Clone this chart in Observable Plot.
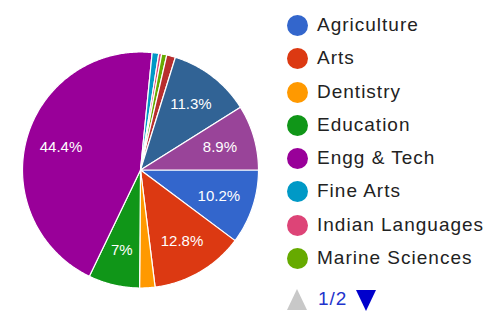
<!DOCTYPE html>
<html>
<head>
<meta charset="utf-8">
<script src="https://cdn.jsdelivr.net/npm/d3@7"></script>
<script src="https://cdn.jsdelivr.net/npm/@observablehq/plot@0.6"></script>
<style>
  html, body { margin: 0; padding: 0; background: #fff; }
  #wrap { position: relative; width: 499px; height: 323px; overflow: hidden; font-family: "Liberation Sans", Arial, sans-serif; }
  #chart { position: absolute; left: 0; top: 0; }
  #legend { position: absolute; left: 287px; top: 15px; }
  .item { position: relative; height: 33.3px; }
  .sw { position: absolute; left: 0; top: 0; width: 21px; height: 21px; border-radius: 50%; }
  .lab { position: absolute; left: 30px; top: -1px; font-size: 19px; letter-spacing: 1px; color: #222; line-height: 22px; white-space: nowrap; }
  #pager { position: absolute; left: 287px; top: 289px; height: 22px; }
  .up { position: absolute; left: 0; top: 0; width: 0; height: 0; border-left: 10px solid transparent; border-right: 10px solid transparent; border-bottom: 21px solid #c8c8c8; }
  .pg { position: absolute; left: 31px; top: -1px; font-size: 19px; color: #2233cc; line-height: 22px; letter-spacing: 1px; }
  .down { position: absolute; left: 69px; top: 1px; width: 0; height: 0; border-left: 10.5px solid transparent; border-right: 10.5px solid transparent; border-top: 21px solid #0000cc; }
</style>
</head>
<body>
<div id="wrap">
  <div id="chart"></div>
  <div id="legend"></div>
  <div id="pager"><div class="up"></div><div class="pg">1/2</div><div class="down"></div></div>
</div>
<script>
// Categories in slice order (clockwise from 3 o'clock)
const categories = ["Agriculture", "Arts", "Dentistry", "Education", "Engg & Tech", "Fine Arts", "Indian Languages", "Marine Sciences", "Medical", "Pharmacy", "Science"];
// Share of total, percent
const shares = [10.2, 12.8, 2.1, 7.0, 44.4, 0.9, 0.4, 0.7, 1.2, 11.3, 8.9];
const colors = ["#3366cc", "#dc3912", "#ff9900", "#109618", "#990099", "#0099c6", "#dd4477", "#66aa00", "#b82e2e", "#316395", "#994499"];
const legendPage = categories.slice(0, 8);
const pageLabel = "1/2";

const rows = categories.map((name, i) => ({name, share: shares[i]}));
const arcs = d3.pie().sort(null).value(d => d.share)
  .startAngle(Math.PI / 2).endAngle(Math.PI / 2 + 2 * Math.PI)(rows);

// polygon outline of each slice on the unit circle
const pts = [];
for (const a of arcs) {
  const name = a.data.name;
  pts.push({name, x: 0, y: 0});
  const n = Math.max(2, Math.ceil((a.endAngle - a.startAngle) / 0.01));
  for (let k = 0; k <= n; k++) {
    const t = a.startAngle + (a.endAngle - a.startAngle) * k / n;
    pts.push({name, x: Math.sin(t), y: Math.cos(t)});
  }
}
const labelR = 0.7;
const labels = arcs.filter(a => a.data.share >= 5).map(a => {
  const m = (a.startAngle + a.endAngle) / 2;
  return {x: labelR * Math.sin(m), y: labelR * Math.cos(m), text: `${+a.data.share.toFixed(1)}%`};
});

const R = 118, W = 280, H = 323, cx = 140, cy = 169.5;
const chart = Plot.plot({
  width: W, height: H,
  margin: 0,
  x: {domain: [-cx / R, (W - cx) / R], axis: null},
  y: {domain: [-(H - cy) / R, cy / R], axis: null},
  color: {domain: categories, range: colors},
  marks: [
    Plot.line(pts, {x: "x", y: "y", z: "name", fill: "name", stroke: "white", strokeWidth: 1.2, curve: "linear-closed"}),
    Plot.text(labels, {x: "x", y: "y", text: "text", fill: "white", fontSize: 15, fontFamily: "Liberation Sans, Arial, sans-serif", style: "letter-spacing:0.5px"})
  ]
});
document.getElementById("chart").appendChild(chart);

const leg = document.getElementById("legend");
legendPage.forEach((name) => {
  const i = categories.indexOf(name);
  const it = document.createElement("div");
  it.className = "item";
  it.innerHTML = `<div class="sw" style="background:${colors[i]}"></div><div class="lab"></div>`;
  it.querySelector(".lab").textContent = name;
  leg.appendChild(it);
});
document.querySelector(".pg").textContent = pageLabel;
</script>
</body>
</html>
